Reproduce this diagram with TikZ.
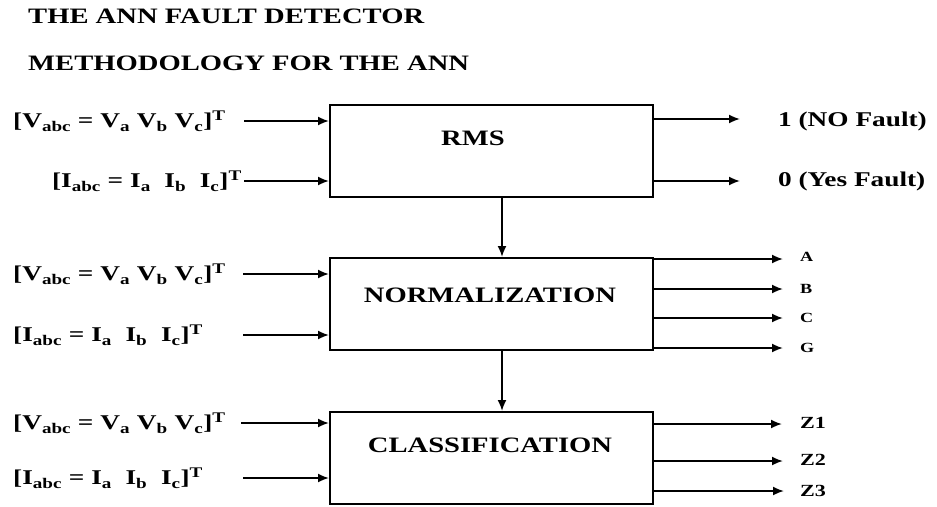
\documentclass[tikz,border=0pt]{standalone}
\usepackage{fontspec}
\setmainfont{Liberation Serif}[FakeStretch=1.3]
\usetikzlibrary{arrows.meta}
\tikzset{
  box/.style={draw, line width=2pt, minimum width=323pt, minimum height=92pt, inner sep=0pt},
  boxtext/.style={font=\fontsize{22}{24}\selectfont\bfseries, inner sep=0pt},
  title/.style={font=\fontsize{22}{24}\selectfont\bfseries, anchor=west, inner sep=0pt},
  inlabel/.style={font=\fontsize{21}{23}\selectfont\bfseries, inner sep=0pt},
  outlabel/.style={font=\fontsize{21}{23}\selectfont\bfseries, anchor=west, inner sep=0pt},
  smalllabel/.style={font=\fontsize{14}{16}\selectfont\bfseries, anchor=west, inner sep=0pt},
  zlabel/.style={font=\fontsize{17}{19}\selectfont\bfseries, anchor=west, inner sep=0pt},
  arr/.style={line width=1.8pt, -{Latex[length=11pt,width=9pt]}}
}
\newcommand{\Vvec}{[V\textsubscript{abc} = V\textsubscript{a} V\textsubscript{b} V\textsubscript{c}]\textsuperscript{T}}
\newcommand{\Ivec}{[I\textsubscript{abc} = I\textsubscript{a}~~I\textsubscript{b}~~I\textsubscript{c}]\textsuperscript{T}}
\begin{document}
\begin{tikzpicture}[x=1pt,y=-1pt]
\path[fill=white] (0,0) rectangle (937,506);
\useasboundingbox (0,0) rectangle (937,506);

% titles
\node[title] (t1) at (28,16) {THE ANN FAULT DETECTOR};
\node[title] (t2) at (28,63) {METHODOLOGY FOR THE ANN};

% boxes
\node[box] (rms) at (491.5,151) {};
\node[box] (norm) at (491.5,304) {};
\node[box] (cls) at (491.5,458) {};
\node[boxtext] (rmst) at (473,138) {RMS};
\node[boxtext] (normt) at (490,295) {NORMALIZATION};
\node[boxtext] (clst) at (490,445) {CLASSIFICATION};

% vertical arrows
\coordinate (dx) at (502,0);
\draw[arr] (rms.south -| dx) -- (norm.north -| dx);
\draw[arr] (norm.south -| dx) -- (cls.north -| dx);

% inputs RMS
\node[inlabel, anchor=west] (rv) at (13,121) {\Vvec};
\node[inlabel, anchor=east] (ri) at (242,181) {\Ivec};
\coordinate (rvs) at (244,121);
\coordinate (ris) at (244,181);
\draw[arr] (rvs) -- (rvs -| rms.west);
\draw[arr] (ris) -- (ris -| rms.west);

% outputs RMS
\coordinate (ro1) at (740,119);
\coordinate (ro2) at (740,181);
\draw[arr] (ro1 -| rms.east) -- (ro1);
\draw[arr] (ro2 -| rms.east) -- (ro2);
\node[outlabel] (r1) at (778,121) {1 (NO Fault)};
\node[outlabel] (r0) at (778,181) {0 (Yes Fault)};

% inputs NORMALIZATION
\node[inlabel, anchor=west] (nv) at (13,274) {\Vvec};
\node[inlabel, anchor=west] (ni) at (13,335) {\Ivec};
\coordinate (nvs) at (243,274);
\coordinate (nis) at (243,335);
\draw[arr] (nvs) -- (nvs -| norm.west);
\draw[arr] (nis) -- (nis -| norm.west);

% outputs NORMALIZATION
\coordinate (na) at (783,259);
\coordinate (nb) at (783,289);
\coordinate (nc) at (783,318);
\coordinate (ng) at (783,348);
\draw[arr] (na -| norm.east) -- (na);
\draw[arr] (nb -| norm.east) -- (nb);
\draw[arr] (nc -| norm.east) -- (nc);
\draw[arr] (ng -| norm.east) -- (ng);
\node[smalllabel] (la) at (800,257) {A};
\node[smalllabel] (lb) at (800,289) {B};
\node[smalllabel] (lc) at (800,318) {C};
\node[smalllabel] (lg) at (800,348) {G};

% inputs CLASSIFICATION
\node[inlabel, anchor=west] (cv) at (13,423) {\Vvec};
\node[inlabel, anchor=west] (ci) at (13,478) {\Ivec};
\coordinate (cvs) at (241,423);
\coordinate (cis) at (243,478);
\draw[arr] (cvs) -- (cvs -| cls.west);
\draw[arr] (cis) -- (cis -| cls.west);

% outputs CLASSIFICATION
\coordinate (z1) at (782,424);
\coordinate (z2) at (783,461);
\coordinate (z3) at (784,491);
\draw[arr] (z1 -| cls.east) -- (z1);
\draw[arr] (z2 -| cls.east) -- (z2);
\draw[arr] (z3 -| cls.east) -- (z3);
\node[zlabel] (lz1) at (800,423) {Z1};
\node[zlabel] (lz2) at (800,460) {Z2};
\node[zlabel] (lz3) at (800,491) {Z3};
\end{tikzpicture}
\end{document}
